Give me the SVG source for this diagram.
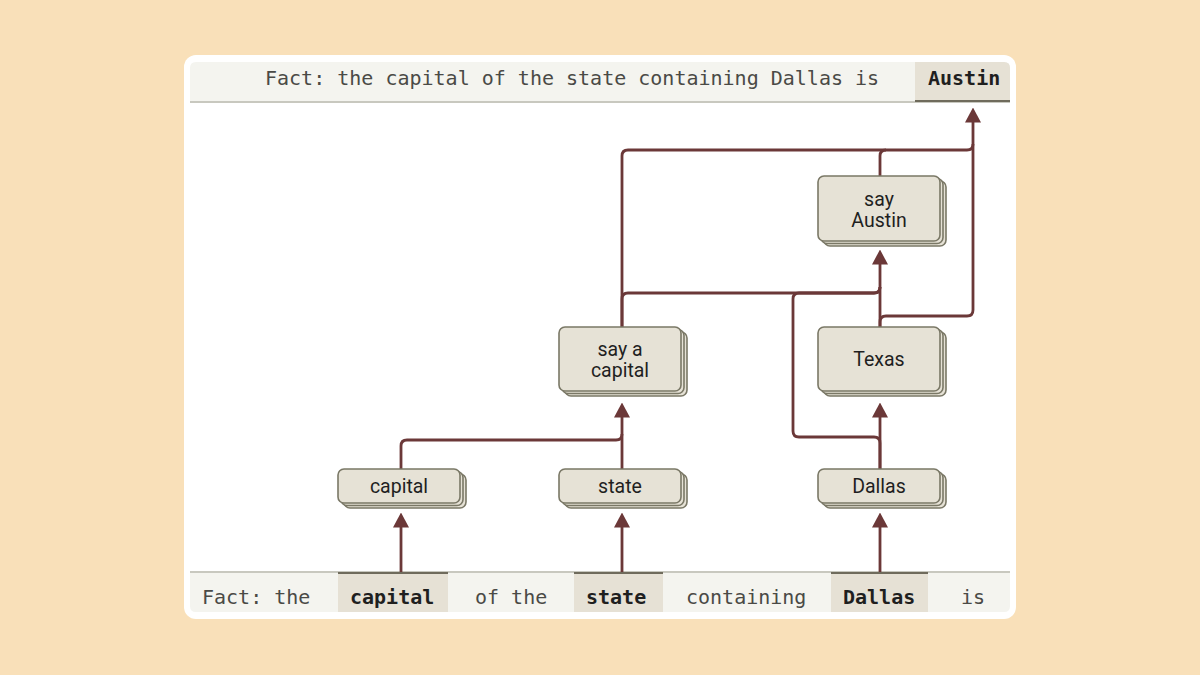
<svg xmlns="http://www.w3.org/2000/svg" width="1200" height="675" viewBox="0 0 1200 675">
<defs>
<style>
.mono{font-family:"DejaVu Sans Mono","Liberation Mono",monospace;font-size:20px;fill:#4a4a46}
.monob{font-family:"DejaVu Sans Mono","Liberation Mono",monospace;font-size:20px;font-weight:bold;fill:#1f1f1f}
.lbl{font-family:Roboto,"Liberation Sans",sans-serif;font-size:19.5px;fill:#1f1f1f;text-anchor:middle}
.nd{fill:#E6E2D6;stroke:#7A7866;stroke-width:1.6}
.hl{fill:#E6E1D5}
.hlb{stroke:#6F6B5C;stroke-width:2}
.edge{fill:none;stroke:#6B3838;stroke-width:2.8}
</style>
<marker id="ah" viewBox="0 0 15 16" refX="0.5" refY="8" markerWidth="15" markerHeight="16" markerUnits="userSpaceOnUse" orient="auto">
<path d="M0,0 L15,8 L0,16 Z" fill="#6B3838"/>
</marker>
</defs>
<rect width="1200" height="675" fill="#F9E0B9"/>
<rect x="184" y="55" width="832" height="564" rx="12" fill="#FFFFFF"/>

<g id="top-bar">
<path d="M190,68 Q190,62 196,62 H1004 Q1010,62 1010,68 V102 H190 Z" fill="#F4F4EF"/>
<line x1="190" y1="102" x2="1010" y2="102" stroke="#C8C8BF" stroke-width="2"/>
<path d="M915,62 H1004 Q1010,62 1010,68 V102 H915 Z" class="hl"/>
<line x1="915" y1="101" x2="1010" y2="101" class="hlb"/>
<text x="265" y="85" class="mono">Fact: the capital of the state containing Dallas is</text>
<text x="928" y="85" class="monob">Austin</text>
</g>

<g id="bottom-bar">
<path d="M190,572 H1010 V606 Q1010,612 1004,612 H196 Q190,612 190,606 Z" fill="#F4F4EF"/>
<line x1="190" y1="572" x2="1010" y2="572" stroke="#C8C8BF" stroke-width="2"/>
<rect x="338" y="572" width="110" height="40" class="hl"/>
<rect x="574" y="572" width="89" height="40" class="hl"/>
<rect x="831" y="572" width="97" height="40" class="hl"/>
<line x1="338" y1="573" x2="448" y2="573" class="hlb"/>
<line x1="574" y1="573" x2="663" y2="573" class="hlb"/>
<line x1="831" y1="573" x2="928" y2="573" class="hlb"/>
<text x="202" y="604" class="mono">Fact: the</text>
<text x="350" y="604" class="monob">capital</text>
<text x="475" y="604" class="mono">of the</text>
<text x="586" y="604" class="monob">state</text>
<text x="686" y="604" class="mono">containing</text>
<text x="843" y="604" class="monob">Dallas</text>
<text x="961" y="604" class="mono">is</text>
</g>

<g id="connectors">
<path class="edge" d="M401,572 V527" marker-end="url(#ah)"/>
<path class="edge" d="M622,572 V527" marker-end="url(#ah)"/>
<path class="edge" d="M880,572 V527" marker-end="url(#ah)"/>
<path class="edge" d="M401,469 V446 Q401,440 407,440 H616 Q622,440 622,434"/>
<path class="edge" d="M622,469 V417" marker-end="url(#ah)"/>
<path class="edge" d="M880,469 V417" marker-end="url(#ah)"/>
<path class="edge" d="M880,469 V443 Q880,437 874,437 H799 Q793,437 793,431 V299 Q793,293 799,293 H874 Q880,293 880,287"/>
<path class="edge" d="M622,327 V299 Q622,293 628,293 H874 Q880,293 880,287"/>
<path class="edge" d="M880,327 V264" marker-end="url(#ah)"/>
<path class="edge" d="M622,327 V156 Q622,150 628,150 H967 Q973,150 973,144"/>
<path class="edge" d="M880,176 V156 Q880,150 886,150"/>
<path class="edge" d="M880,327 V322 Q880,316 886,316 H967 Q973,316 973,310 V122" marker-end="url(#ah)"/>
</g>

<g id="node-capital">
<rect x="344" y="474" width="122" height="34" rx="6" class="nd"/>
<rect x="341" y="471.5" width="122" height="34" rx="6" class="nd"/>
<rect x="338" y="469" width="122" height="34" rx="6" class="nd"/>
<text x="399" y="493" class="lbl">capital</text>
</g>
<g id="node-state">
<rect x="565" y="474" width="122" height="34" rx="6" class="nd"/>
<rect x="562" y="471.5" width="122" height="34" rx="6" class="nd"/>
<rect x="559" y="469" width="122" height="34" rx="6" class="nd"/>
<text x="620" y="493" class="lbl">state</text>
</g>
<g id="node-dallas">
<rect x="824" y="474" width="122" height="34" rx="6" class="nd"/>
<rect x="821" y="471.5" width="122" height="34" rx="6" class="nd"/>
<rect x="818" y="469" width="122" height="34" rx="6" class="nd"/>
<text x="879" y="493" class="lbl">Dallas</text>
</g>
<g id="node-say-a-capital">
<rect x="565" y="332" width="122" height="64" rx="6" class="nd"/>
<rect x="562" y="329.5" width="122" height="64" rx="6" class="nd"/>
<rect x="559" y="327" width="122" height="64" rx="6" class="nd"/>
<text x="620" y="356" class="lbl">say a</text>
<text x="620" y="377" class="lbl">capital</text>
</g>
<g id="node-texas">
<rect x="824" y="332" width="122" height="64" rx="6" class="nd"/>
<rect x="821" y="329.5" width="122" height="64" rx="6" class="nd"/>
<rect x="818" y="327" width="122" height="64" rx="6" class="nd"/>
<text x="879" y="366" class="lbl">Texas</text>
</g>
<g id="node-say-austin">
<rect x="824" y="181" width="122" height="65" rx="6" class="nd"/>
<rect x="821" y="178.5" width="122" height="65" rx="6" class="nd"/>
<rect x="818" y="176" width="122" height="65" rx="6" class="nd"/>
<text x="879" y="206" class="lbl">say</text>
<text x="879" y="227" class="lbl">Austin</text>
</g>
</svg>
